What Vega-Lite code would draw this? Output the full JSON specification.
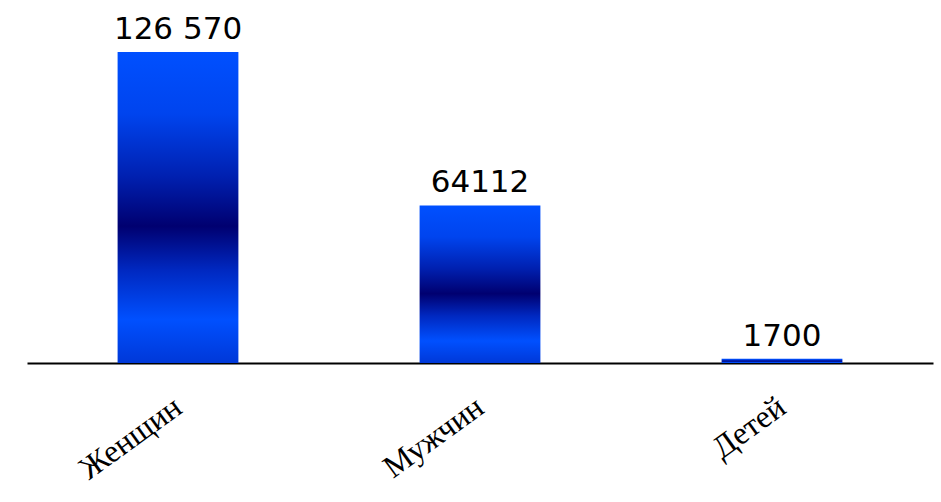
{
  "$schema": "https://vega.github.io/schema/vega-lite/v6.json",
  "width": 906,
  "height": 353,
  "autosize": {"type": "none"},
  "padding": {"left": 27, "top": 10, "right": 8, "bottom": 139},
  "background": "white",
  "config": {"view": {"stroke": null}},
  "data": {
    "values": [
      {"cat": "Женщин", "value": 126570, "label": "126 570"},
      {"cat": "Мужчин", "value": 64112, "label": "64112"},
      {"cat": "Детей", "value": 1700, "label": "1700"}
    ]
  },
  "encoding": {
    "x": {
      "field": "cat",
      "type": "nominal",
      "sort": null,
      "scale": {"paddingInner": 0.6, "paddingOuter": 0.3},
      "axis": {
        "title": null,
        "labelAngle": -36,
        "labelFont": "Liberation Serif",
        "labelFontSize": 32,
        "labelColor": "black",
        "labelAlign": "right",
        "labelBaseline": "middle",
        "labelPadding": 40,
        "labelOverlap": false,
        "ticks": false,
        "domainColor": "black",
        "domainWidth": 2
      }
    },
    "y": {
      "field": "value",
      "type": "quantitative",
      "scale": {"domain": [0, 143663]},
      "axis": null
    }
  },
  "layer": [
    {
      "mark": {
        "type": "bar",
        "color": {
          "gradient": "linear",
          "x1": 0, "y1": 0, "x2": 0, "y2": 1,
          "stops": [
            {"offset": 0, "color": "#0050FF"},
            {"offset": 0.2, "color": "#0044EE"},
            {"offset": 0.4, "color": "#0020B0"},
            {"offset": 0.56, "color": "#000070"},
            {"offset": 0.7, "color": "#0028C0"},
            {"offset": 0.86, "color": "#0050FF"},
            {"offset": 1, "color": "#0038D8"}
          ]
        }
      }
    },
    {
      "mark": {
        "type": "text",
        "font": "DejaVu Sans",
        "fontSize": 31,
        "baseline": "alphabetic",
        "dy": -13,
        "color": "black"
      },
      "encoding": {"text": {"field": "label"}}
    }
  ]
}
